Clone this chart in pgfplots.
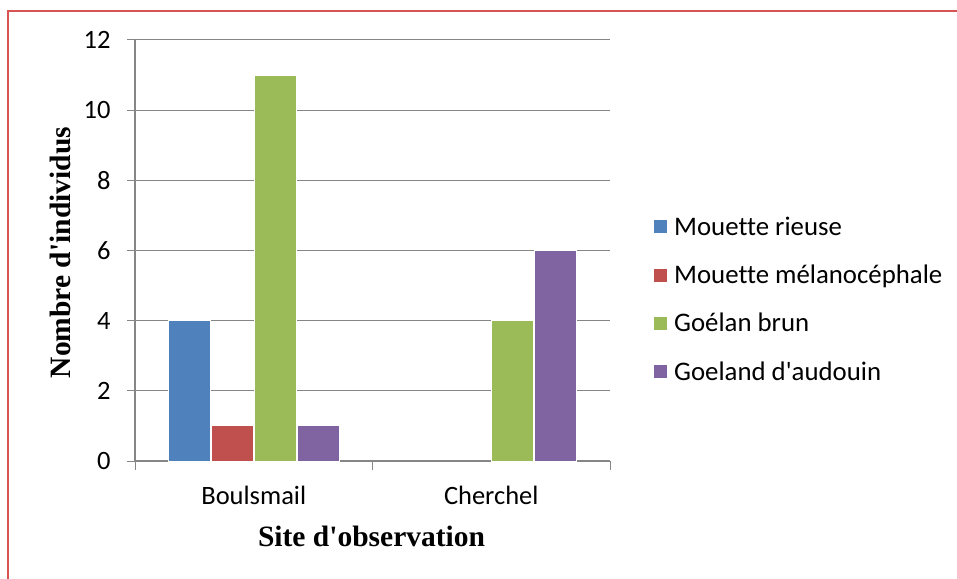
\documentclass[border=0pt]{standalone}
\usepackage{pgfplots}
\pgfplotsset{compat=1.18}
\usepackage{fontspec}
\setmainfont{Carlito}[Ligatures={NoCommon}]
\newfontfamily\titlefont{Liberation Serif}

\definecolor{s1}{RGB}{79,129,189}
\definecolor{s2}{RGB}{192,80,77}
\definecolor{s3}{RGB}{155,187,89}
\definecolor{s4}{RGB}{128,100,162}
\definecolor{axisgray}{RGB}{134,134,134}
\definecolor{framered}{RGB}{214,85,82}

\begin{document}
\begin{tikzpicture}[x=1pt,y=1pt]
\useasboundingbox (0,0) rectangle (957,578);
% outer frame of the chart area
\begin{scope}
  \clip (0,0) rectangle (957,578);
  \draw[framered, line width=2pt] (8,567) rectangle (990,-30);
\end{scope}
\begin{axis}[
  at={(135pt,117pt)}, anchor=south west,
  scale only axis, width=475pt, height=421pt,
  xmin=-0.5, xmax=1.5, ymin=0, ymax=12,
  ytick={0,2,...,12},
  xtick={0,1}, xticklabels={Boulsmail,Cherchel},
  minor xtick={-0.5,0.5,1.5},
  axis x line=bottom, axis y line=left,
  axis line style={-, axisgray, line width=1.3pt},
  tick align=outside,
  major tick length=8pt, minor tick length=9pt,
  tick style={axisgray, line width=1pt},
  major x tick style={draw=none},
  ymajorgrids, grid style={axisgray, line width=1pt},
  ybar, bar width=42pt,
  every axis plot/.append style={draw=white, line width=1pt},
  ticklabel style={font=\fontsize{26.5}{30}\selectfont},
  yticklabel style={xshift=-13pt},
  xticklabel style={yshift=-14pt},
  /pgf/number format/assume math mode=true,
  xlabel={Site d\textquotesingle observation}, ylabel={Nombre d\textquotesingle individus},
  label style={font=\titlefont\bfseries\fontsize{29.5}{34}\selectfont},
  xlabel style={at={(axis description cs:0.498,-0.204)}, anchor=base},
  ylabel style={at={(axis description cs:-0.158,0.495)}, anchor=center},
  legend cell align=left,
  legend image code/.code={\fill[#1] (0pt,-7pt) rectangle (14pt,7pt);},
  legend style={draw=none, fill=none, inner sep=0pt,
    at={(axis description cs:1.0905,0.5891)}, anchor=north west,
    row sep=21pt, font=\fontsize{26.8}{30}\selectfont,
    nodes={inner sep=0pt, text height=22pt, text depth=5.3pt},
    /tikz/every odd column/.append style={column sep=6pt}},
]
\addplot[fill=s1, bar shift=-64.5pt] coordinates {(0,4)};
\addplot[fill=s2, bar shift=-21.5pt] coordinates {(0,1)};
\addplot[fill=s3, bar shift=21.5pt] coordinates {(0,11) (1,4)};
\addplot[fill=s4, bar shift=64.5pt] coordinates {(0,1) (1,6)};
\legend{Mouette rieuse, Mouette mélanocéphale, Goélan brun, Goeland d\textquotesingle audouin}
\end{axis}
\end{tikzpicture}
\end{document}
